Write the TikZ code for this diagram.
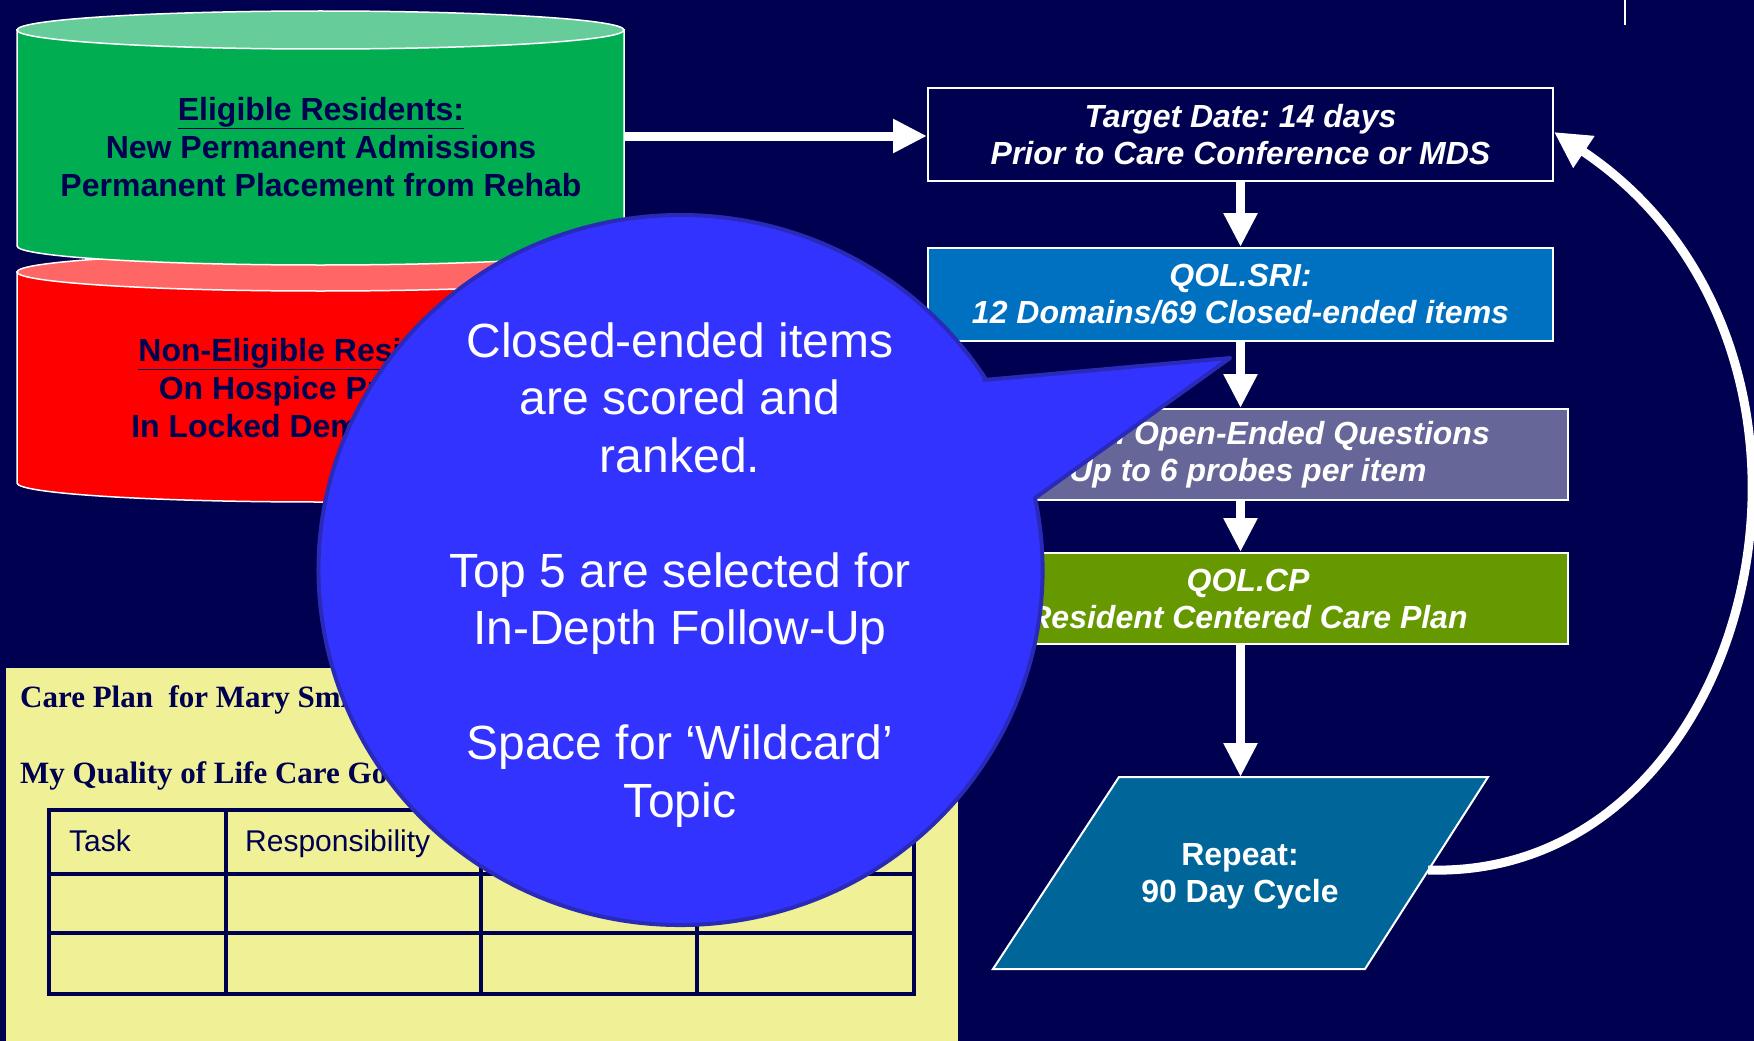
\documentclass[tikz,border=0pt]{standalone}
\usepackage{fontspec}
\setmainfont{Liberation Serif}
\setsansfont{Liberation Sans}
\usepackage{xcolor}
\usepackage{tikz}
\usetikzlibrary{arrows.meta}
\frenchspacing
\definecolor{bg}{HTML}{000050}
\definecolor{eligtop}{HTML}{66CC99}
\definecolor{eligbody}{HTML}{00AD50}
\definecolor{nontop}{HTML}{FF6666}
\definecolor{nonbody}{HTML}{FF0000}
\definecolor{srifill}{HTML}{0070C0}
\definecolor{oeqfill}{HTML}{666699}
\definecolor{cpfill}{HTML}{669900}
\definecolor{repfill}{HTML}{006699}
\definecolor{bubble}{HTML}{3333FF}
\definecolor{bubbleedge}{HTML}{2A2AB8}
\definecolor{paper}{HTML}{F0F096}
\newcommand{\boxfont}{\sffamily\bfseries\itshape\fontsize{32}{37}\selectfont}
\newcommand{\cylfont}{\sffamily\bfseries\fontsize{32}{38}\selectfont}
\tikzset{
  flow/.style={draw=white, line width=9pt, -{Triangle[width=32pt,length=34pt]}},
  card/.style={draw=white, line width=2pt, minimum width=625pt, minimum height=93pt,
    text=white, align=center, font=\boxfont, inner sep=0pt},
  wide/.style={card, minimum width=640pt, minimum height=91pt},
  cyl/.style={draw=white, line width=1.5pt},
  cyllab/.style={text=bg, align=center, font=\cylfont, inner sep=0pt},
  grid/.style={draw=bg, line width=3.5pt, line cap=rect},
  paperlab/.style={anchor=base west, text=bg, inner sep=0pt,
    font=\rmfamily\bfseries\fontsize{31}{37}\selectfont},
  celllab/.style={anchor=base west, text=bg, inner sep=0pt,
    font=\sffamily\fontsize{30}{36}\selectfont},
}

\begin{document}
\begin{tikzpicture}[x=1pt,y=-1pt]
  \fill[bg] (0,0) rectangle (1754,1041);
  \useasboundingbox (0,0) rectangle (1754,1041);
  \draw[white, line width=2.5pt] (1625,0) -- (1625,25);

  \draw[cyl, fill=nonbody] (17,272) -- (17,483)
    arc[start angle=180, end angle=0, x radius=303.5, y radius=19] -- (624,272) -- cycle;
  \draw[cyl, fill=nontop] (320.5,272) ellipse[x radius=303.5, y radius=19];
  \node[cyllab] (non) at (318,388) {\underline{Non-Eligible Residents:}\\
    On Hospice Program\\ In Locked Dementia Unit};

  \draw[cyl, fill=eligbody] (17,30) -- (17,246)
    arc[start angle=180, end angle=0, x radius=303.5, y radius=19] -- (624,30) -- cycle;
  \draw[cyl, fill=eligtop] (320.5,30) ellipse[x radius=303.5, y radius=19];
  \node[cyllab] (elig) at (321,147) {\underline{Eligible Residents:}\\
    New Permanent Admissions\\ Permanent Placement from Rehab};
  \coordinate (eligR) at (624,136);

  \node[card, fill=bg] (tgt) at (1240.5,134.5) {Target Date: 14 days\\ Prior to Care Conference or MDS};
  \node[card, fill=srifill] (sri) at (1240.5,294.5) {QOL.SRI:\\ 12 Domains/69 Closed-ended items};
  \node[wide, fill=oeqfill] (oeq) at (1248,454.5) {QOL.IDI Open-Ended Questions\\ Up to 6 probes per item};
  \node[wide, fill=cpfill] (cp) at (1248,598.5) {QOL.CP\\ Resident Centered Care Plan};

  \coordinate (repTL) at (1119,777);
  \coordinate (repTR) at (1488,777);
  \coordinate (repBR) at (1365,969);
  \coordinate (repBL) at (993,969);
  \coordinate (repN) at (1240.5,777);
  \coordinate (repE) at (1428,870);
  \draw[white, line width=2pt, fill=repfill] (repTL) -- (repTR) -- (repBR) -- (repBL) -- cycle;
  \node[text=white, align=center, inner sep=0pt,
    font=\sffamily\bfseries\fontsize{32}{37}\selectfont] (rep) at (1240,876) {Repeat:\\ 90 Day Cycle};

  \draw[flow] (eligR) -- (tgt.west |- eligR);
  \draw[flow] (tgt.south) -- (sri.north);
  \draw[flow] (sri.south) -- (oeq.north -| sri.south);
  \draw[flow] (oeq.south -| sri.south) -- (cp.north -| sri.south);
  \draw[flow] (cp.south -| sri.south) -- (repN);
  \draw[flow, -{Triangle[width=36pt,length=36pt]}] (repE)
    .. controls (1760,880) and (1880,350) .. (tgt.east |- 0,132);

  \fill[paper] (6,668) rectangle (958,1041);
  \node[paperlab] (plan) at (20,707) {Care Plan\ \ for Mary Smith};
  \node[paperlab] (goal) at (20,783) {My Quality of Life Care Goals};
  \foreach \y in {810,874,933,994}
    \draw[grid] (49,\y) -- (914,\y);
  \foreach \x in {49,226,481,697,914}
    \draw[grid] (\x,810) -- (\x,994);
  \node[celllab] (task) at (69,851) {Task};
  \node[celllab] (resp) at (245,851) {Responsibility};

  \draw[bubbleedge, line width=4pt, line join=round, fill=bubble]
    (984,380) -- (1230,358) -- (1035,498)
    arc[start angle=-11.7, end angle=327.5, x radius=362, y radius=355] -- cycle;
  \node[text=white, align=center, inner sep=0pt,
    font=\sffamily\fontsize{48}{57.5}\selectfont] (bubtxt) at (680,575)
    {Closed-ended items\\ are scored and\\ ranked.\\[57.5pt]
     Top 5 are selected for\\ In-Depth Follow-Up\\[57.5pt]
     Space for ‘Wildcard’\\ Topic};
\end{tikzpicture}
\end{document}
